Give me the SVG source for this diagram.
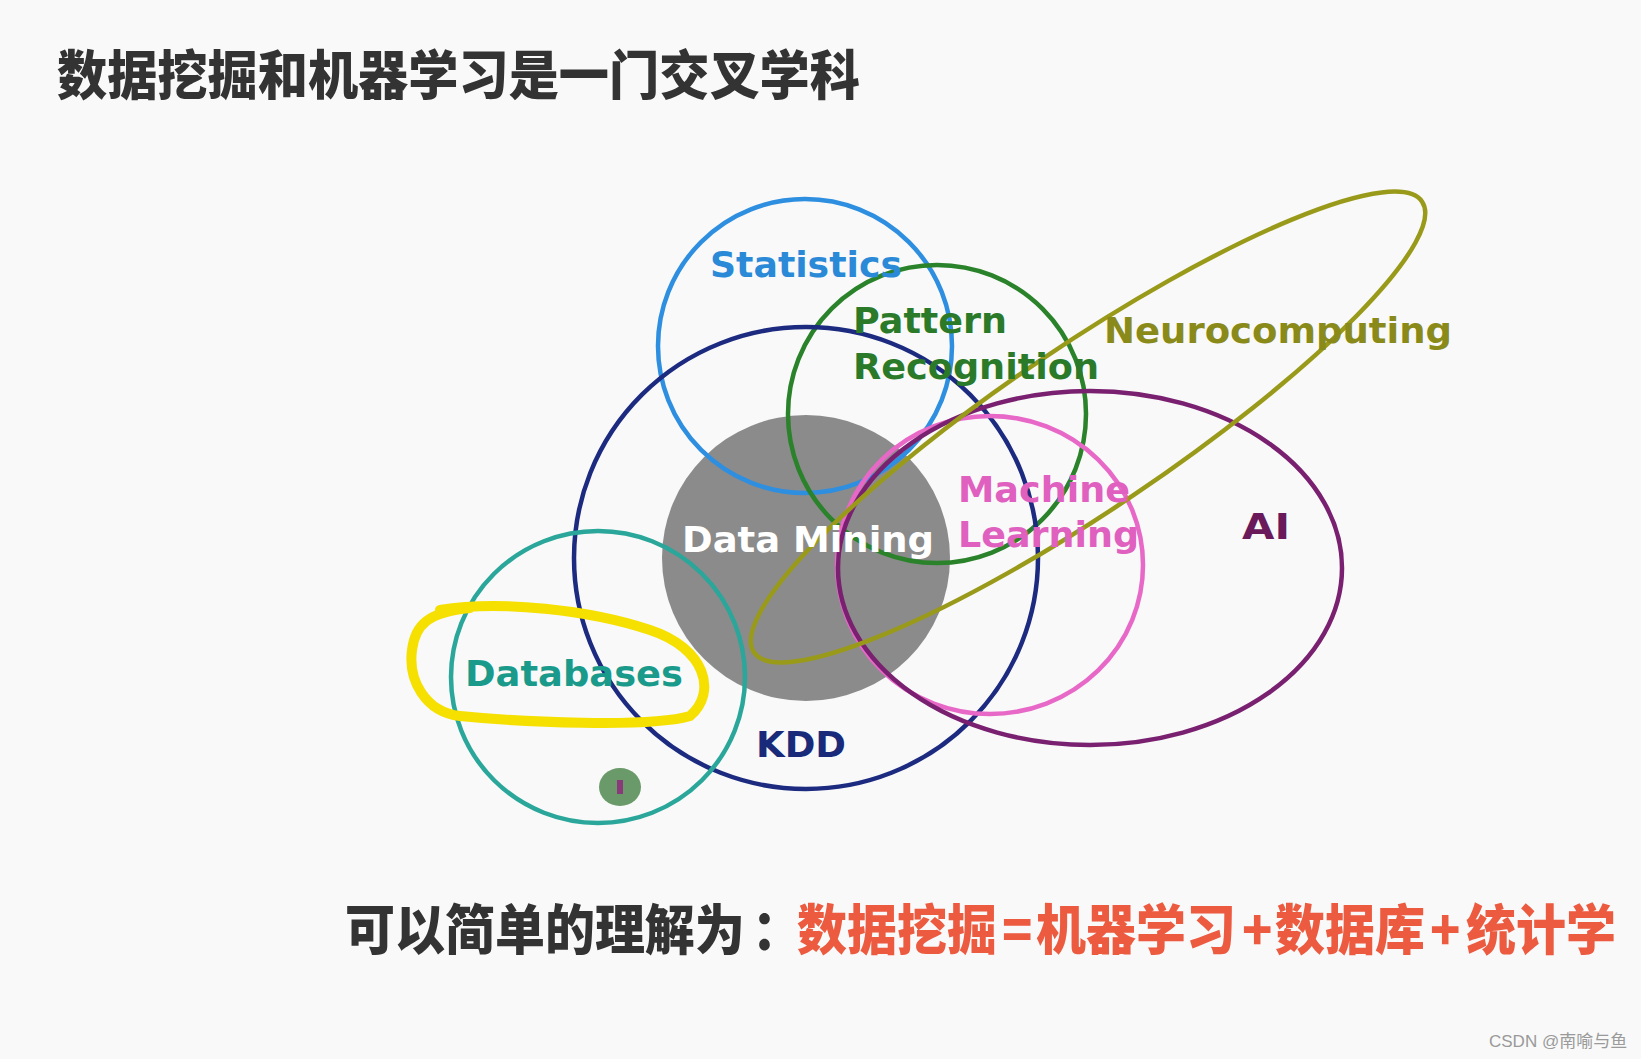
<svg xmlns="http://www.w3.org/2000/svg" width="1641" height="1059" viewBox="0 0 1641 1059">
<style>
.ring{fill:none;stroke-width:4.5}
.lbl{font-family:"DejaVu Sans","Liberation Sans",sans-serif;font-weight:bold;font-size:36px}
.cjk{font-family:"Noto Sans CJK SC",sans-serif;font-weight:900}
</style>
<rect x="0" y="0" width="1641" height="1059" fill="#f8f9f8"/>
<text class="cjk" x="57" y="95" font-size="53" textLength="803" lengthAdjust="spacingAndGlyphs" fill="#333333">数据挖掘和机器学习是一门交叉学科</text>

<g id="data-mining-disk"><ellipse cx="806" cy="558" rx="144" ry="143" fill="#8b8b8b"/></g>
<g id="statistics"><circle class="ring" cx="805" cy="346" r="147" stroke="#2e8ee0"/></g>
<g id="pattern-recognition"><circle class="ring" cx="937" cy="414" r="149" stroke="#2a822a"/></g>
<g id="kdd"><ellipse class="ring" cx="806" cy="558" rx="232" ry="231" stroke="#1c2a80"/></g>
<g id="databases"><ellipse class="ring" cx="598" cy="677" rx="147" ry="146" stroke="#2aa69a"/></g>
<g id="machine-learning"><ellipse class="ring" cx="990" cy="565" rx="153" ry="149" stroke="#e868c8"/></g>
<g id="ai"><ellipse class="ring" cx="1090" cy="568" rx="252" ry="177" stroke="#7a2070"/></g>
<g id="neurocomputing"><ellipse class="ring" cx="1088" cy="427" rx="403" ry="82" transform="rotate(-34 1088 427)" stroke="#9a9a1a"/></g>
<g id="highlight"><path d="M 440 610 C 500 600 590 610 650 630 C 705 648 718 692 690 716 C 650 728 520 722 460 716 C 425 712 408 680 412 650 C 415 625 428 612 470 608" fill="none" stroke="#f5e000" stroke-width="10" stroke-linecap="round"/></g>
<g id="dot"><ellipse cx="620" cy="787" rx="21" ry="19" fill="#6a9a6a"/><rect x="617" y="780" width="6" height="14" fill="#8a3a7a"/></g>

<g id="labels">
<text class="lbl" x="710" y="277" textLength="192" lengthAdjust="spacingAndGlyphs" fill="#2a8ad8">Statistics</text>
<text class="lbl" x="853" y="333" textLength="154" lengthAdjust="spacingAndGlyphs" fill="#2a7a2a">Pattern</text>
<text class="lbl" x="853" y="379" textLength="246" lengthAdjust="spacingAndGlyphs" fill="#2a7a2a">Recognition</text>
<text class="lbl" x="1104" y="343" textLength="348" lengthAdjust="spacingAndGlyphs" fill="#8a8a1a">Neurocomputing</text>
<text class="lbl" x="958" y="502" textLength="172" lengthAdjust="spacingAndGlyphs" fill="#e060c0">Machine</text>
<text class="lbl" x="958" y="547" textLength="181" lengthAdjust="spacingAndGlyphs" fill="#e060c0">Learning</text>
<text class="lbl" x="1242" y="539" textLength="48" lengthAdjust="spacingAndGlyphs" fill="#6a1a5a">AI</text>
<text class="lbl" x="682" y="552" textLength="252" lengthAdjust="spacingAndGlyphs" fill="#ffffff">Data Mining</text>
<text class="lbl" x="465" y="686" textLength="218" lengthAdjust="spacingAndGlyphs" fill="#1a9a8a">Databases</text>
<text class="lbl" x="756" y="757" textLength="90" lengthAdjust="spacingAndGlyphs" fill="#1a2a7a">KDD</text>
</g>

<text class="cjk" font-size="50" transform="translate(0 950) scale(1 1.08)"><tspan x="345" y="0" fill="#333333">可以简单的理解为</tspan><tspan x="752" y="0" fill="#333333">：</tspan><tspan fill="#ec5a40"><tspan x="797" y="0">数据挖掘</tspan><tspan x="1002" y="0">=</tspan><tspan x="1036" y="0">机器学习</tspan><tspan x="1242" y="0">+</tspan><tspan x="1275" y="0">数据库</tspan><tspan x="1430" y="0">+</tspan><tspan x="1466" y="0">统计学</tspan></tspan></text>

<text x="1489" y="1047" font-family="'Liberation Sans','Noto Sans CJK SC',sans-serif" font-size="17" fill="#9a9a9a">CSDN @南喻与鱼</text>
</svg>
